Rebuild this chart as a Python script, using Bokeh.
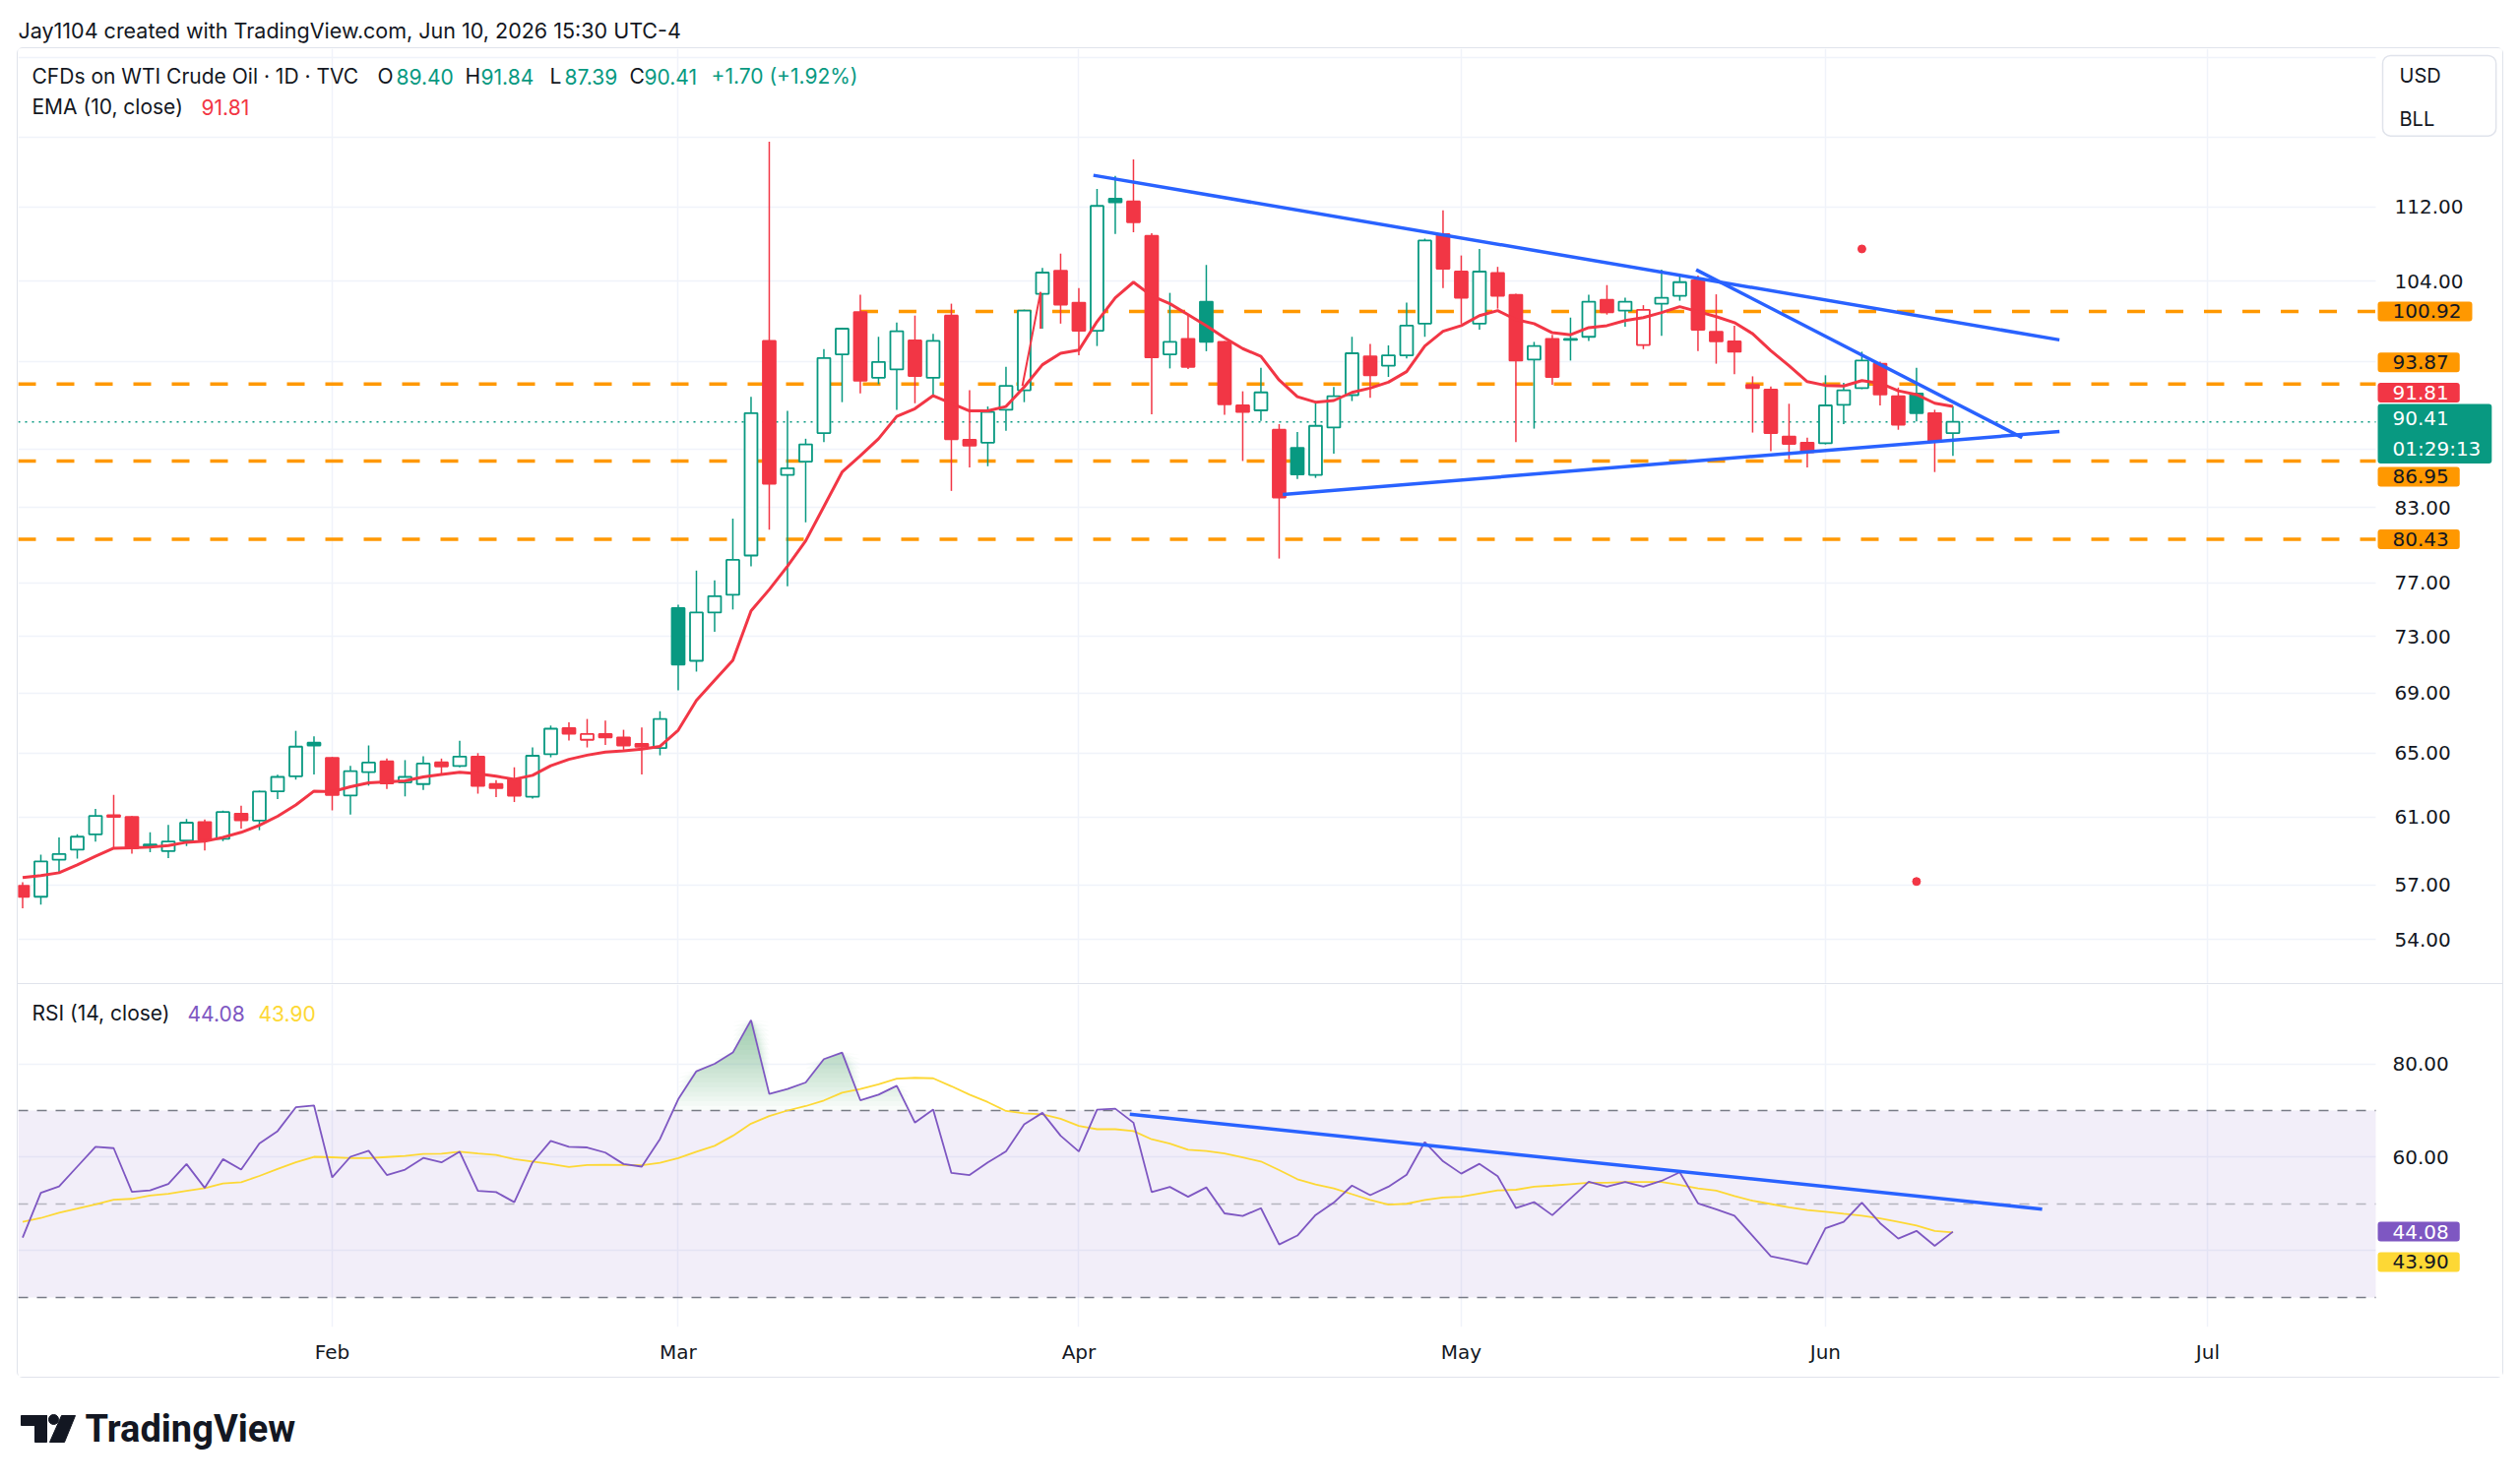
import numpy as np
import pandas as pd
from bokeh.plotting import figure
from bokeh.models import Range1d, FixedTicker, PrintfTickFormatter, Label, BoxAnnotation, ColumnDataSource
from bokeh.layouts import column
from bokeh.embed import file_html
from bokeh.resources import INLINE

# ---------------- data ----------------
HOLIDAYS = pd.to_datetime(["2026-01-19", "2026-02-16", "2026-04-03", "2026-05-25", "2026-06-19", "2026-07-03"])
all_days = pd.bdate_range("2026-01-07", "2026-07-31")
all_days = all_days[~all_days.isin(HOLIDAYS)]
LAST_DAY = pd.Timestamp("2026-06-10")
dates = [d.strftime("%Y-%m-%d") for d in all_days if d <= LAST_DAY]

opens = [56.96, 56.34, 58.46, 59.04, 59.95, 61.10, 61.00, 59.25, 58.96, 59.58,
         60.69, 59.68, 61.20, 60.78, 62.58, 63.52, 65.68, 64.70, 62.32, 63.78,
         64.47, 63.13, 63.03, 64.41, 64.17, 64.78, 63.03, 63.31, 62.24, 64.93,
         66.64, 65.87, 66.25, 66.03, 65.60, 65.33, 75.10, 71.26, 74.77, 76.10,
         79.14, 98.00, 85.76, 86.90, 89.40, 96.70, 100.85, 94.47, 95.25, 98.05,
         94.47, 100.50, 88.80, 88.55, 91.50, 93.30, 102.70, 105.10, 101.80, 99.00,
         112.90, 112.60, 108.80, 96.70, 98.20, 101.90, 97.90, 91.90, 91.45, 89.70,
         88.10, 85.75, 89.90, 92.85, 96.50, 95.60, 96.60, 99.70, 109.00, 105.00,
         99.70, 104.85, 102.60, 96.20, 98.20, 98.10, 98.40, 102.10, 101.00, 97.60,
         101.70, 102.50, 104.10, 98.90, 97.95, 93.80, 93.35, 89.10, 88.55, 88.50,
         91.95, 93.50, 95.80, 92.75, 93.00, 91.20, 89.40]
highs = [57.16, 58.75, 59.77, 59.96, 61.49, 62.36, 61.05, 60.07, 60.51, 60.88,
         60.84, 61.39, 61.69, 62.62, 63.62, 66.46, 66.09, 64.75, 64.19, 65.50,
         64.65, 64.55, 64.80, 64.65, 65.81, 65.00, 63.27, 64.09, 65.37, 66.81,
         67.03, 67.25, 67.14, 66.53, 66.68, 67.77, 75.35, 77.96, 77.20, 82.10,
         92.70, 119.50, 91.40, 88.90, 97.20, 99.30, 102.60, 98.40, 99.80, 100.50,
         98.70, 101.70, 93.30, 91.80, 95.50, 101.10, 105.40, 106.90, 103.30, 114.00,
         115.50, 117.40, 109.10, 102.80, 100.50, 105.70, 98.00, 93.20, 95.40, 90.20,
         89.50, 92.30, 93.60, 98.40, 97.70, 97.56, 101.80, 108.50, 111.60, 106.70,
         107.40, 105.50, 102.70, 97.90, 98.60, 100.30, 102.60, 103.60, 102.30, 101.55,
         105.20, 104.80, 104.60, 102.65, 99.50, 94.60, 93.65, 92.05, 89.00, 94.70,
         94.00, 96.95, 96.00, 93.55, 95.40, 91.50, 91.84]
lows = [55.70, 55.90, 57.64, 58.52, 59.52, 59.13, 58.80, 58.90, 58.55, 59.25,
        59.00, 59.54, 60.30, 60.20, 62.10, 63.31, 63.64, 61.40, 61.14, 62.93,
        62.72, 62.26, 62.66, 63.68, 64.09, 62.43, 62.22, 61.91, 62.13, 64.73,
        65.83, 65.37, 65.54, 65.22, 63.64, 64.86, 69.20, 70.50, 73.35, 75.00,
        78.30, 81.20, 76.75, 81.80, 88.60, 92.20, 93.00, 93.87, 91.50, 92.10,
        92.80, 84.40, 86.40, 86.50, 89.60, 92.20, 99.20, 99.70, 96.60, 97.50,
        109.00, 109.20, 91.10, 95.35, 95.30, 97.00, 91.04, 86.95, 90.50, 78.90,
        85.40, 85.50, 87.60, 92.30, 92.60, 94.55, 96.30, 98.40, 103.30, 99.70,
        99.10, 101.20, 88.60, 89.80, 93.80, 96.10, 98.00, 100.60, 99.40, 97.20,
        98.50, 102.00, 97.00, 95.80, 94.80, 89.45, 87.80, 87.10, 86.40, 88.40,
        90.20, 93.40, 91.90, 89.70, 90.45, 86.00, 87.39]
closes = [56.34, 58.36, 58.78, 59.81, 61.06, 61.00, 59.13, 59.35, 59.52, 60.65,
          59.64, 61.30, 60.80, 62.56, 63.48, 65.42, 65.50, 62.34, 63.84, 64.39,
          63.07, 63.48, 64.33, 64.15, 64.78, 62.91, 62.77, 62.30, 64.83, 66.60,
          66.27, 66.25, 66.03, 65.50, 65.42, 67.25, 71.00, 74.77, 76.00, 78.80,
          91.20, 85.00, 86.33, 88.40, 96.34, 99.20, 94.20, 95.96, 98.95, 94.64,
          98.00, 88.86, 88.30, 91.30, 93.70, 101.00, 104.90, 101.60, 99.00, 112.10,
          112.50, 110.30, 96.40, 97.90, 95.50, 97.90, 92.00, 91.30, 93.10, 83.85,
          85.80, 90.05, 92.75, 96.80, 94.70, 96.60, 99.50, 108.30, 105.30, 102.30,
          105.00, 102.50, 96.10, 97.50, 94.55, 98.20, 101.90, 100.84, 101.90, 101.07,
          102.30, 103.90, 99.10, 97.95, 96.95, 93.50, 89.40, 88.45, 87.70, 91.90,
          93.30, 96.10, 92.90, 90.15, 91.20, 88.71, 90.41]
ema10 = [57.43, 57.54, 57.70, 58.16, 58.65, 59.13, 59.15, 59.19, 59.29, 59.48,
         59.54, 59.77, 60.07, 60.49, 61.04, 61.73, 62.59, 62.55, 62.86, 63.11,
         63.17, 63.23, 63.48, 63.64, 63.78, 63.68, 63.52, 63.33, 63.58, 64.19,
         64.60, 64.87, 65.07, 65.15, 65.26, 65.44, 66.50, 68.50, 69.90, 71.30,
         74.90, 76.50, 78.30, 80.30, 83.10, 86.00, 87.40, 88.90, 90.90, 91.60,
         92.80, 92.10, 91.40, 91.40, 91.80, 93.60, 95.70, 96.80, 97.10, 99.90,
         102.30, 103.90, 102.50, 101.70, 100.60, 99.50, 98.30, 97.25, 96.50, 94.25,
         92.70, 92.20, 92.35, 93.10, 93.50, 94.05, 95.05, 97.50, 98.95, 99.50,
         100.50, 101.00, 100.10, 99.70, 98.80, 98.60, 99.30, 99.50, 100.00, 100.30,
         100.80, 101.40, 100.90, 100.40, 99.80, 98.70, 97.05, 95.60, 94.10, 93.75,
         93.70, 94.20, 93.95, 93.25, 92.90, 92.10, 91.81]
rsi14 = [42.8, 52.4, 53.75, 58.0, 62.25, 61.95, 52.6, 52.9, 54.3, 58.55,
         53.45, 59.6, 57.35, 62.95, 65.6, 70.7, 71.1, 55.7, 60.1, 61.4,
         56.2, 57.35, 59.85, 58.9, 61.2, 52.8, 52.55, 50.4, 58.9, 63.5,
         62.25, 62.1, 61.0, 58.55, 58.0, 63.9, 72.4, 78.4, 80.0, 82.4,
         89.35, 73.55, 74.6, 76.0, 81.0, 82.4, 72.2, 73.4, 75.3, 67.4,
         70.2, 56.65, 56.2, 58.9, 61.25, 67.05, 69.5, 64.6, 61.25, 70.2,
         70.4, 67.4, 52.55, 53.65, 51.55, 53.55, 48.0, 47.45, 49.1, 41.35,
         43.25, 47.65, 50.3, 53.95, 51.9, 53.7, 56.25, 63.25, 59.15, 56.5,
         58.6, 55.95, 49.15, 50.4, 47.6, 51.2, 54.75, 53.7, 54.7, 53.7,
         54.95, 56.8, 50.15, 48.85, 47.5, 43.2, 38.8, 38.0, 37.15, 44.8,
         46.2, 50.3, 45.9, 42.6, 44.25, 41.05, 44.08]
rsi_ma = [46.2, 47.0, 48.15, 49.0, 49.9, 50.9, 51.1, 51.8, 52.2, 52.8,
          53.4, 54.4, 54.65, 56.0, 57.5, 58.9, 60.1, 60.0, 59.8, 59.8,
          60.05, 60.3, 60.7, 60.75, 61.2, 60.8, 60.5, 59.6, 59.1, 58.55,
          57.9, 58.35, 58.4, 58.35, 58.3, 58.8, 59.8, 61.2, 62.45, 64.6,
          67.2, 68.8, 70.0, 70.95, 72.15, 73.8, 74.6, 75.6, 76.8, 77.0,
          76.9, 75.2, 73.4, 71.8, 69.9, 69.4, 69.2, 68.25, 66.7, 66.0,
          66.0, 65.6, 63.85, 62.9, 61.6, 61.35, 60.8, 59.95, 59.1, 57.25,
          55.3, 54.2, 53.35, 52.1, 50.85, 49.85, 50.05, 50.85, 51.4, 51.55,
          52.25, 52.9, 53.05, 53.7, 53.95, 54.25, 54.55, 54.55, 54.7, 54.7,
          54.7, 54.1, 53.35, 52.85, 51.7, 50.7, 50.0, 49.3, 48.7, 48.35,
          47.9, 47.5, 46.9, 46.2, 45.4, 44.25, 43.9]

# horizontal levels (price, first bar index or None = from left edge)
levels = [100.92, 93.87, 86.95, 80.43]
level_start = [46, None, None, None]
last_price = 90.41
countdown = "01:29:13"
# trend-line drawings: (bar index, value) anchors
tl_upper_x, tl_upper_y = [58.8, 111.85], [115.57, 98.10]
tl_lower_x, tl_lower_y = [69.2, 111.85], [84.10, 89.55]
tl_mid_x, tl_mid_y = [91.9, 109.8], [105.2, 89.0]
tl_rsi_x, tl_rsi_y = [60.8, 110.9], [69.2, 48.9]
glitch_x, glitch_y = [54.9, 55.9, 55.9], [93.7, 102.9, 99.2]
dot_x, dot_y = [101, 104], [107.4, 57.2]

price_ticks_labeled = [54, 57, 61, 65, 69, 73, 77, 83, 104, 112]
price_ticks_grid = [54, 57, 61, 65, 69, 73, 77, 83, 88, 96, 104, 112, 120, 130]
rsi_ticks_labeled = [60, 80]
rsi_ticks_grid = [40, 60, 80]
rsi_levels = [70, 50, 30]

# ---------------- styling constants ----------------
GREEN = "#089981"
RED = "#f23645"
BLUE = "#2962ff"
ORANGE = "#ff9800"
PURPLE = "#7e57c2"
YELLOW = "#fdd835"
GRID = "#f0f3fa"
TXT = "#131722"
BORDER = "#e0e3eb"
TFONT = "Inter"
NFONT = "DejaVu Sans"
X_START, X_END = -0.243, 136.14     # frame covers the plot area and the price-scale strip
STRIP = 129.22                       # where the price-scale strip begins
XR = Range1d(X_START, X_END)

n = len(closes)
xs = np.arange(n)
prev = [opens[0]] + closes[:-1]
col = [GREEN if c >= pc else RED for c, pc in zip(closes, prev)]
fill = ["white" if c > o else k for o, c, k in zip(opens, closes, col)]
src = ColumnDataSource(dict(x=xs, date=dates, open=opens, high=highs, low=lows, close=closes,
                            top=np.maximum(opens, closes), bottom=np.minimum(opens, closes),
                            color=col, fill=fill, ema=ema10))

# month ticks from the trading calendar
month_idx, month_lbl = [], []
for i in range(1, len(all_days)):
    if all_days[i].month != all_days[i - 1].month:
        month_idx.append(i)
        month_lbl.append(all_days[i].strftime("%b"))


def lab(fig, x, y, text, color, size="21px", font=TFONT, style="normal"):
    fig.add_layout(Label(x=x, y=y, x_units="screen", y_units="screen", text=text, text_color=color,
                         text_font=font, text_font_size=size, text_font_style=style,
                         text_baseline="middle", text_align="left"))


def badge(fig, y, text, bg, fg, yoff=0, lh=1.2):
    fig.add_layout(Label(x=2397, y=y, x_units="screen", y_units="data", y_offset=yoff, text=text,
                         text_color=fg, text_font=NFONT, text_font_size="20px",
                         text_baseline="middle", text_align="left", text_line_height=lh,
                         background_fill_color=bg, background_fill_alpha=1.0,
                         padding=dict(left=15, right=11, top=3, bottom=3), border_radius=3))


def style_axis(a, standoff):
    a.axis_line_color = None
    a.major_tick_line_color = None
    a.minor_tick_line_color = None
    a.major_tick_out = 0
    a.major_tick_in = 0
    a.major_label_text_font = NFONT
    a.major_label_text_font_size = "20px"
    a.major_label_text_color = TXT
    a.major_label_standoff = standoff


# ---------------- header ----------------
hdr = figure(width=2544, height=40, toolbar_location=None, output_backend="svg",
             x_axis_location=None, y_axis_location=None, outline_line_color=None,
             min_border=0, x_range=Range1d(0, 1), y_range=Range1d(0, 1))
hdr.grid.grid_line_color = None
lab(hdr, 10, 18, "Jay1104 created with TradingView.com, Jun 10, 2026 15:30 UTC-4", TXT, size="21.5px")

# ---------------- price pane ----------------
p = figure(width=2524, height=951, x_range=XR, y_range=Range1d(51.62, 131.1), y_axis_type="log",
           x_axis_location=None, y_axis_location="right", toolbar_location=None, output_backend="svg",
           min_border_left=0, min_border_right=1, min_border_top=0, min_border_bottom=0,
           outline_line_color=None, styles={"border-bottom": "1px solid " + BORDER})
ax = p.yaxis[0]
ax.ticker = FixedTicker(ticks=price_ticks_labeled)
ax.formatter = PrintfTickFormatter(format="%.2f")
style_axis(ax, -109)
p.ygrid.ticker = FixedTicker(ticks=price_ticks_grid)
p.xgrid.ticker = FixedTicker(ticks=month_idx)
p.grid.grid_line_color = GRID
p.grid.grid_line_width = 1.5
p.add_layout(BoxAnnotation(left=STRIP, fill_color="white", fill_alpha=1.0, line_color=None, level="underlay"))

for lv, st in zip(levels, level_start):
    x0 = X_START if st is None else st
    p.segment(x0=[x0], y0=[lv], x1=[STRIP], y1=[lv], line_color=ORANGE, line_width=3.5, line_dash="18 21")
p.segment(x0=[X_START], y0=[last_price], x1=[STRIP], y1=[last_price], line_color=GREEN,
          line_width=1.5, line_dash="2 5")

p.segment(x0="x", y0="low", x1="x", y1="high", line_color="color", line_width=1.5, source=src)
p.vbar(x="x", width=0.7, top="top", bottom="bottom", fill_color="fill", line_color="color",
       line_width=1.8, source=src)
p.line(x="x", y="ema", line_color=RED, line_width=3, source=src)
p.line(glitch_x, glitch_y, line_color=RED, line_width=2)
p.scatter(dot_x, dot_y, size=8, color=RED)

for tx, ty in [(tl_upper_x, tl_upper_y), (tl_lower_x, tl_lower_y), (tl_mid_x, tl_mid_y)]:
    p.line(tx, ty, line_color=BLUE, line_width=3.5)

# legend texts
lab(p, 14, 923, "CFDs on WTI Crude Oil · 1D · TVC", TXT)
lab(p, 365, 923, "O", TXT)
lab(p, 384, 923, f"{opens[-1]:.2f}", GREEN)
lab(p, 454, 923, "H", TXT)
lab(p, 470, 923, f"{highs[-1]:.2f}", GREEN)
lab(p, 540, 923, "L", TXT)
lab(p, 555, 923, f"{lows[-1]:.2f}", GREEN)
lab(p, 621, 923, "C", TXT)
lab(p, 636, 923, f"{closes[-1]:.2f}", GREEN)
chg = closes[-1] - closes[-2]
lab(p, 704, 923, f"{chg:+.2f} ({chg / closes[-2] * 100:+.2f}%)", GREEN)
lab(p, 14, 892, "EMA (10, close)", TXT)
lab(p, 186, 892, f"{ema10[-1]:.2f}", RED)

# currency box
p.add_layout(Label(x=2402, y=944, x_units="screen", y_units="screen", text="USD\nBLL", text_color=TXT,
                   text_font=TFONT, text_font_size="20px", text_baseline="top", text_align="left",
                   text_line_height=1.86, background_fill_color="white",
                   border_line_color=BORDER, border_line_width=1.5,
                   padding=dict(left=17, right=56, top=8, bottom=5), border_radius=8))

# price badges
badge(p, levels[0], f"{levels[0]:.2f}", ORANGE, TXT)
badge(p, levels[1], f"{levels[1]:.2f}", ORANGE, TXT, yoff=22)
badge(p, ema10[-1], f"{ema10[-1]:.2f}", RED, "white", yoff=14)
badge(p, last_price, f"{last_price:.2f}\n{countdown}", GREEN, "white", yoff=-12, lh=1.27)
badge(p, levels[2], f"{levels[2]:.2f}", ORANGE, TXT, yoff=-16)
badge(p, levels[3], f"{levels[3]:.2f}", ORANGE, TXT)

# ---------------- RSI pane ----------------
r = figure(width=2524, height=399, x_range=XR, y_range=Range1d(23.68, 96.95),
           x_axis_location="below", y_axis_location="right", toolbar_location=None, output_backend="svg",
           min_border_left=0, min_border_right=1, min_border_top=0, min_border_bottom=51,
           outline_line_color=None)
ra = r.yaxis[0]
ra.ticker = FixedTicker(ticks=rsi_ticks_labeled)
ra.formatter = PrintfTickFormatter(format="%.2f")
style_axis(ra, -111)
xa = r.xaxis[0]
style_axis(xa, 13)
xa.ticker = FixedTicker(ticks=month_idx)
xa.major_label_overrides = {int(i): s for i, s in zip(month_idx, month_lbl)}
r.ygrid.ticker = FixedTicker(ticks=rsi_ticks_grid)
r.xgrid.ticker = FixedTicker(ticks=month_idx)
r.grid.grid_line_color = GRID
r.grid.grid_line_width = 1.5

r.add_layout(BoxAnnotation(bottom=30, top=70, fill_color=PURPLE, fill_alpha=0.1, line_color=None, level="underlay"))
r.add_layout(BoxAnnotation(left=STRIP, fill_color="white", fill_alpha=1.0, line_color=None, level="underlay"))
for lvl, alpha in zip(rsi_levels, [1.0, 0.5, 1.0]):
    r.segment(x0=[X_START], y0=[lvl], x1=[STRIP], y1=[lvl], line_color="#787b86", line_alpha=alpha,
              line_width=1.5, line_dash="10 9")

# overbought gradient fill (RSI above 70), built from overlapping translucent layers
fx, fy = [], []
for i in range(n):
    if i > 0:
        a0, b0 = rsi14[i - 1], rsi14[i]
        if (a0 - 70) * (b0 - 70) < 0:
            t = (70 - a0) / (b0 - a0)
            fx.append(i - 1 + t)
            fy.append(70.0)
    fx.append(i)
    fy.append(rsi14[i])
fx = np.array(fx)
ftop = np.maximum(np.array(fy), 70.0)
for k in range(20):
    lo = 70.0 + k
    r.varea(x=fx, y1=np.full(len(fx), lo), y2=np.maximum(ftop, lo),
            fill_color="#4caf50", fill_alpha=0.032)

r.line(xs, rsi_ma, line_color=YELLOW, line_width=1.8)
r.line(xs, rsi14, line_color=PURPLE, line_width=1.8)
r.line(tl_rsi_x, tl_rsi_y, line_color=BLUE, line_width=3.5)

lab(r, 14, 319, "RSI (14, close)", TXT)
lab(r, 172, 319, f"{rsi14[-1]:.2f}", PURPLE)
lab(r, 244, 319, f"{rsi_ma[-1]:.2f}", YELLOW)
badge(r, rsi14[-1], f"{rsi14[-1]:.2f}", PURPLE, "white")
badge(r, rsi_ma[-1], f"{rsi_ma[-1]:.2f}", YELLOW, TXT, yoff=-30)

framed = column(p, r, margin=(0, 0, 0, 9),
                styles={"border": "1px solid " + BORDER, "border-radius": "6px"})

# ---------------- footer (logo) ----------------
ftr = figure(width=2544, height=89, toolbar_location=None, output_backend="svg",
             x_axis_location=None, y_axis_location=None, outline_line_color=None, min_border=0,
             x_range=Range1d(8, 2552), y_range=Range1d(1490, 1401))
ftr.grid.grid_line_color = None
ftr.quad(left=[21, 35], right=[47, 47], top=[1439, 1439], bottom=[1449, 1466], color=TXT)
ftr.scatter([54], [1443], size=10, color=TXT)
ftr.patch([62, 76, 65, 50], [1439, 1439, 1466, 1466], color=TXT)
ftr.add_layout(Label(x=86, y=1452, text="TradingView", text_font="Roboto", text_font_size="38px",
                     text_font_style="bold", text_color=TXT, text_baseline="middle", text_align="left"))

layout = column(hdr, framed, ftr, margin=(8, 0, 0, 8))
open("out.html", "w").write(file_html(layout, INLINE))
